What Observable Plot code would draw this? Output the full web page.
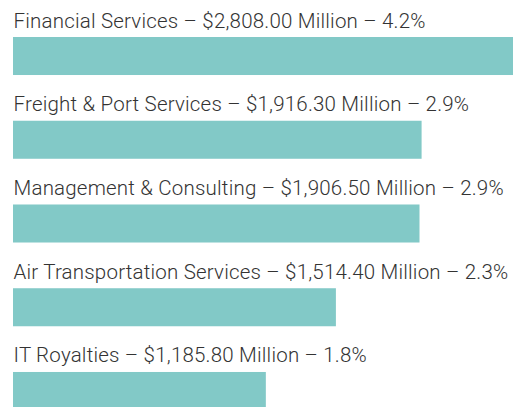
<!DOCTYPE html>
<html>
<head>
<meta charset="utf-8">
<script src="https://cdn.jsdelivr.net/npm/d3@7"></script>
<script src="https://cdn.jsdelivr.net/npm/@observablehq/plot@0.6"></script>
<style>
  html, body { margin: 0; padding: 0; background: #fff; overflow: hidden; }
  #chart svg text { letter-spacing: 0.2px; }
</style>
</head>
<body>
<div id="chart"></div>
<script>
const categories = ["Financial Services", "Freight & Port Services", "Management & Consulting", "Air Transportation Services", "IT Royalties"];
const values = [2808.00, 1916.30, 1906.50, 1514.40, 1185.80];
const shares = [4.2, 2.9, 2.9, 2.3, 1.8];

const fmt = d3.format(",.2f");
const data = categories.map((c, i) => ({
  category: c,
  value: values[i],
  label: `${c} – $${fmt(values[i])} Million – ${shares[i]}%`
}));

const chart = Plot.plot({
  width: 513,
  height: 407,
  margin: 0,
  style: { background: "#fff", overflow: "hidden" },
  x: { domain: [0, 2345], range: [13, 513], clamp: true, axis: null },
  y: { domain: categories, range: [37, 410], paddingInner: 0.546, paddingOuter: 0, round: false, axis: null },
  marks: [
    Plot.barX(data, { x: "value", y: "category", fill: "#82c9c7" }),
    Plot.text(data, {
      x: 0, y: "category", text: "label", textAnchor: "start", lineAnchor: "bottom",
      dy: -29, fill: "#333", fontSize: 20.5, fontFamily: "Roboto", fontWeight: 300
    })
  ]
});
document.getElementById("chart").append(chart);
</script>
</body>
</html>
